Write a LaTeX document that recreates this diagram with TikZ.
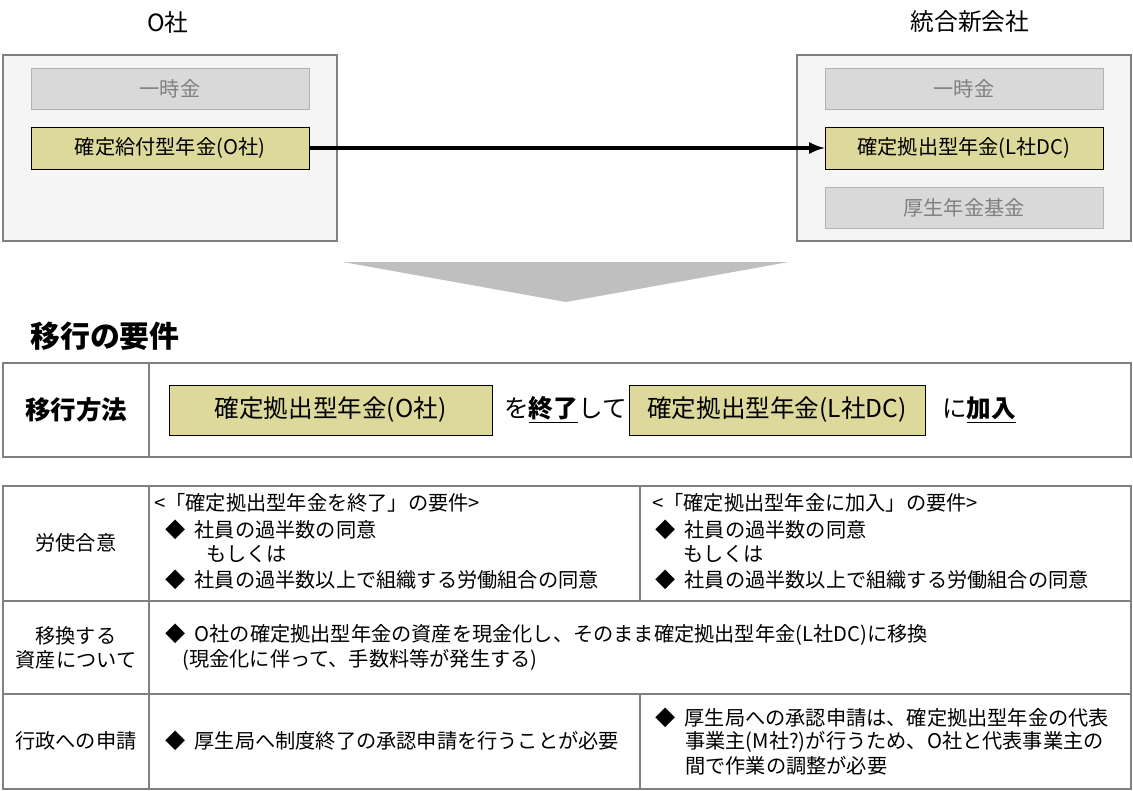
\documentclass[tikz,border=0pt]{standalone}
\usepackage{fontspec}
\setmainfont{Noto Sans CJK JP}
\usetikzlibrary{positioning}
\definecolor{khaki}{HTML}{DDD99B}
\definecolor{pale}{HTML}{F5F5F5}
\definecolor{cellgray}{HTML}{D9D9D9}
\definecolor{rulegray}{HTML}{808080}
\begin{document}
\begin{tikzpicture}[x=0.02cm,y=-0.02cm,font=\fontsize{11.5}{14}\selectfont,
  outerbox/.style={draw=rulegray,fill=pale,thick},
  greyitem/.style={draw=gray!60,fill=cellgray,text=gray,minimum width=5.56cm,minimum height=0.82cm,inner sep=0pt},
  planitem/.style={draw=black,fill=khaki,minimum width=5.56cm,minimum height=0.84cm,inner sep=0pt},
  bigitem/.style={draw=black,fill=khaki,minimum height=1cm,inner sep=0pt,font=\fontsize{14}{16}\selectfont},
  grid/.style={draw=rulegray,thick},
  txt/.style={anchor=west,inner sep=0pt}]
\useasboundingbox (0,0) rectangle (1133,791);
% top companies
\node[font=\fontsize{13.5}{15}\selectfont] (lname) at (168,22) {O社};
\node[font=\fontsize{13.5}{15}\selectfont] (rname) at (970,22) {統合新会社};
\draw[outerbox] (3,55) rectangle (337,241);
\draw[outerbox] (797,55) rectangle (1131,241);
\node[greyitem] (lone) at (170,88.5) {一時金};
\node[planitem] (ldb) at (170,148) {確定給付型年金(O社)};
\node[greyitem] (rone) at (964,88.5) {一時金};
\node[planitem] (rdc) at (964,148) {確定拠出型年金(L社DC)};
\node[greyitem] (rfund) at (964,207.5) {厚生年金基金};
\draw[-latex,line width=2pt] (ldb) -- (rdc);
\fill[gray!50] (343,262) -- (789,262) -- (566,302) -- cycle;
% requirements
\node[txt,font=\fontsize{17}{19}\selectfont\bfseries] (title) at (30,336) {移行の要件};
\draw[grid] (3,363) rectangle (1131,457) (149,363) -- (149,457);
\node[font=\fontsize{14.5}{16}\selectfont\bfseries] (method) at (76,410) {移行方法};
\node[bigitem,minimum width=6.46cm] (odc) at (330.5,410) {確定拠出型年金(O社)};
\node[txt,font=\fontsize{14}{16}\selectfont] (end) at (504,410) {を\underline{\textbf{終了}}して};
\node[bigitem,minimum width=5.92cm] (ldc) at (777,410) {確定拠出型年金(L社DC)};
\node[txt,font=\fontsize{14}{16}\selectfont] (join) at (942,410) {に\underline{\textbf{加入}}};
% table
\draw[grid] (3,486) rectangle (1131,789);
\draw[grid] (3,601) -- (1131,601) (3,694) -- (1131,694) (149,486) -- (149,789)
  (640,486) -- (640,601) (640,694) -- (640,789);
\node (r1) at (76,543) {労使合意};
\node[align=center] (r2) at (76,648) {移換する\\資産について};
\node (r3) at (76,741) {行政への申請};
\node[txt] (a1) at (154,503) {<「確定拠出型年金を終了」の要件>};
\node[txt] (a2) at (165,530) {◆\ \ 社員の過半数の同意};
\node[txt] (a3) at (206,554) {もしくは};
\node[txt] (a4) at (165,580) {◆\ \ 社員の過半数以上で組織する労働組合の同意};
\node[txt] (b1) at (652,503) {<「確定拠出型年金に加入」の要件>};
\node[txt] (b2) at (655,530) {◆\ \ 社員の過半数の同意};
\node[txt] (b3) at (683,554) {もしくは};
\node[txt] (b4) at (655,580) {◆\ \ 社員の過半数以上で組織する労働組合の同意};
\node[txt] (c1) at (165,635) {◆\ \ O社の確定拠出型年金の資産を現金化し、そのまま確定拠出型年金(L社DC)に移換};
\node[txt] (c2) at (182,660) {(現金化に伴って、手数料等が発生する)};
\node[txt] (d1) at (165,741) {◆\ \ 厚生局へ制度終了の承認申請を行うことが必要};
\node[txt] (e1) at (655,718) {◆\ \ 厚生局への承認申請は、確定拠出型年金の代表};
\node[txt] (e2) at (685,742) {事業主(M社?)が行うため、O社と代表事業主の};
\node[txt] (e3) at (685,766) {間で作業の調整が必要};
\end{tikzpicture}
\end{document}
